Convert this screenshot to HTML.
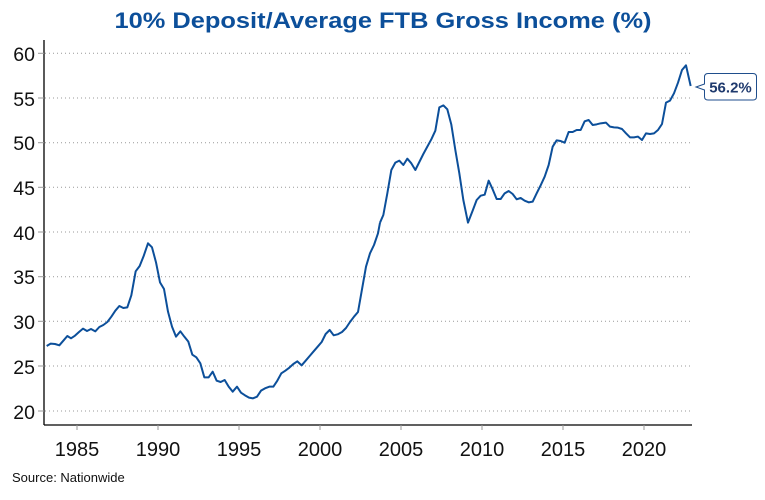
<!DOCTYPE html>
<html><head><meta charset="utf-8"><style>
body{margin:0;background:#fff;}
svg{display:block;font-family:"Liberation Sans",sans-serif;}
</style></head><body>
<svg width="765" height="500" viewBox="0 0 765 500">
<text x="383" y="28" text-anchor="middle" font-size="22" font-weight="bold" fill="#0c4f9a" textLength="537" lengthAdjust="spacingAndGlyphs">10% Deposit/Average FTB Gross Income (%)</text>
<g stroke="#999" stroke-width="1" stroke-dasharray="1,3">
<line x1="45" x2="692" y1="53.3" y2="53.3"/><line x1="45" x2="692" y1="98" y2="98"/>
<line x1="45" x2="692" y1="142.7" y2="142.7"/><line x1="45" x2="692" y1="187.3" y2="187.3"/>
<line x1="45" x2="692" y1="232" y2="232"/><line x1="45" x2="692" y1="276.7" y2="276.7"/>
<line x1="45" x2="692" y1="321.3" y2="321.3"/><line x1="45" x2="692" y1="366" y2="366"/>
<line x1="45" x2="692" y1="411" y2="411"/>
</g>
<g stroke="#000" stroke-width="1.3">
<line x1="44" x2="44" y1="40" y2="425"/><line x1="44" x2="692" y1="425" y2="425"/>
</g>
<g stroke="#999" stroke-width="1">
<line x1="38" x2="44" y1="53.3" y2="53.3"/><line x1="38" x2="44" y1="98" y2="98"/><line x1="38" x2="44" y1="142.7" y2="142.7"/><line x1="38" x2="44" y1="187.3" y2="187.3"/><line x1="38" x2="44" y1="232" y2="232"/><line x1="38" x2="44" y1="276.7" y2="276.7"/><line x1="38" x2="44" y1="321.3" y2="321.3"/><line x1="38" x2="44" y1="366" y2="366"/><line x1="38" x2="44" y1="411" y2="411"/>
<line x1="77" x2="77" y1="425" y2="430"/><line x1="158" x2="158" y1="425" y2="430"/><line x1="239" x2="239" y1="425" y2="430"/><line x1="320" x2="320" y1="425" y2="430"/><line x1="401" x2="401" y1="425" y2="430"/><line x1="482" x2="482" y1="425" y2="430"/><line x1="563" x2="563" y1="425" y2="430"/><line x1="644" x2="644" y1="425" y2="430"/>
</g>
<g font-size="19.5" fill="#111" text-anchor="end">
<text x="35" y="61">60</text><text x="35" y="106">55</text><text x="35" y="150">50</text><text x="35" y="195">45</text><text x="35" y="240">40</text><text x="35" y="284">35</text><text x="35" y="329">30</text><text x="35" y="374">25</text><text x="35" y="419">20</text>
</g>
<g font-size="20" fill="#111" text-anchor="middle">
<text x="77" y="456">1985</text><text x="158" y="456">1990</text><text x="239" y="456">1995</text><text x="320" y="456">2000</text><text x="401" y="456">2005</text><text x="482" y="456">2010</text><text x="563" y="456">2015</text><text x="644" y="456">2020</text>
</g>
<text x="12" y="482" font-size="13" fill="#111">Source: Nationwide</text>
<g fill="none" stroke="#0c4f9a" stroke-width="2" stroke-linejoin="round">
<polyline vector-effect="non-scaling-stroke" transform="translate(0,30) scale(0.33333)" points="140,948 152,941 165,942 178,946 190,932 202,918 213,925 225,917 237,906 249,896 261,903 273,897 286,904 298,891 310,885 322,876 334,860 346,842 358,828 370,834 382,832 394,796 407,724 419,708 431,678 444,640 456,652 468,697 480,757 492,777 504,845 516,890 528,920 541,904 553,920 565,935 577,974 589,982 601,1000 613,1042 626,1042 638,1025 650,1052 662,1056 674,1050 686,1070 698,1085 711,1070 723,1088 735,1096 747,1103 759,1105 771,1100 783,1082 795,1075 808,1070 820,1070 832,1052 844,1030 856,1022 868,1013 880,1002 892,994 905,1006 917,992 929,978 941,964 953,950 965,936 977,912 989,900 1001,916 1013,913 1026,906 1038,894 1050,876 1062,860 1074,846 1086,778 1098,710 1110,670 1122,645 1134,610 1140,578"/>
<polyline vector-effect="non-scaling-stroke" transform="translate(380,30) scale(0.33333)" points="0,578 10,555 22,490 34,420 46,398 58,392 70,405 82,386 94,400 106,420 118,396 130,372 142,350 154,328 166,302 178,232 190,226 202,238 214,284 226,360 238,430 250,510 264,578 278,542 290,510 302,497 314,494 326,452 338,478 350,507 362,507 374,490 386,483 398,492 410,508 422,504 434,512 446,517 458,515 470,490 482,466 494,440 506,405 518,350 530,331 542,333 554,338 566,306 578,306 590,300 602,300 614,274 626,270 638,285 650,283 662,280 678,278 690,290 702,292 714,293 726,297 738,310 750,322 762,322 774,320 786,330 798,310 810,312 822,310 834,300 846,282 858,218 870,212 882,190 894,158 906,120 918,106 932,168"/>
</g>
<path d="M708,73.5 H753 Q756.5,73.5 756.5,77 V96.5 Q756.5,100 753,100 H708 Q704.5,100 704.5,96.5 V90 L696,87 L704.5,84 V77 Q704.5,73.5 708,73.5 Z" fill="#fff" stroke="#1f4e8c" stroke-width="1"/>
<text x="730.5" y="92.5" text-anchor="middle" font-size="15" font-weight="bold" fill="#1f3a6e">56.2%</text>
</svg>
</body></html>
